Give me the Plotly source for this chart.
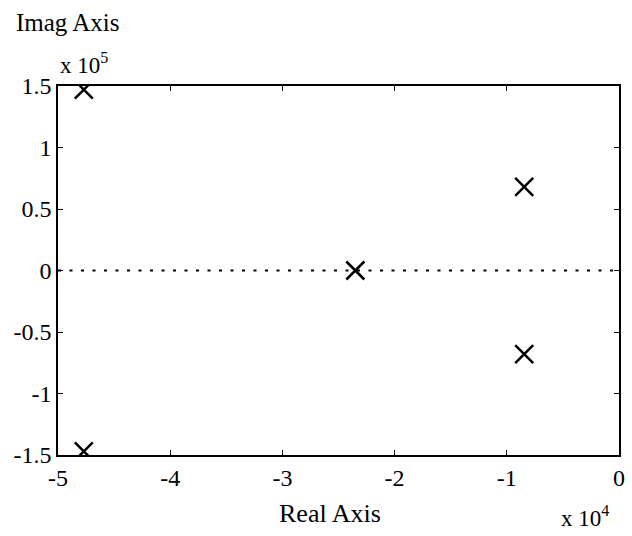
import plotly.graph_objects as go

# Pole locations (real part in units of 1e4, imaginary part in units of 1e5)
pole_real = [-4.77, -4.77, -0.845, -0.845, -2.35]
pole_imag = [1.47, -1.47, 0.68, -0.68, 0.0]

x_ticks = [-5, -4, -3, -2, -1, 0]
y_ticks = [-1.5, -1, -0.5, 0, 0.5, 1, 1.5]
y_tick_text = ["-1.5", "-1", "-0.5", "0", "0.5", "1", "1.5"]

FONT = "Liberation Serif"

fig = go.Figure()

# real axis reference line
fig.add_trace(go.Scatter(
    x=[x_ticks[0], x_ticks[-1]], y=[0, 0], mode="lines",
    line=dict(color="black", width=2, dash="3px,8.5px"),
    hoverinfo="skip", showlegend=False,
))

fig.add_trace(go.Scatter(
    x=pole_real, y=pole_imag, mode="markers",
    marker=dict(symbol="x-thin", size=18, line=dict(color="black", width=2.5)),
    showlegend=False,
))

axis_common = dict(
    showgrid=False, zeroline=False, showline=True, linecolor="black",
    linewidth=1.5, mirror="allticks", ticks="inside", ticklen=5,
    tickcolor="black", tickwidth=1,
    tickfont=dict(family=FONT, size=24, color="black"),
)

fig.update_xaxes(range=[-5, 0], tickvals=x_ticks,
                 ticktext=[str(v) for v in x_ticks], **axis_common)
fig.update_yaxes(range=[-1.5, 1.5], tickvals=y_ticks,
                 ticktext=y_tick_text, **axis_common)

fig.update_layout(
    width=632, height=536,
    margin=dict(l=58, r=7, t=86, b=81),
    plot_bgcolor="white", paper_bgcolor="white",
    font=dict(family=FONT, size=24, color="black"),
    annotations=[
        dict(text="Imag Axis", xref="paper", yref="paper", x=-0.079, y=1.173,
             xanchor="left", yanchor="middle", showarrow=False,
             font=dict(size=25)),
        dict(text="x 10<sup>5</sup>", xref="paper", yref="paper", x=0.0, y=1.016,
             xanchor="left", yanchor="bottom", showarrow=False,
             font=dict(size=23)),
        dict(text="Real Axis", xref="paper", yref="paper", x=0.485, y=-0.115,
             xanchor="center", yanchor="top", showarrow=False,
             font=dict(size=26)),
        dict(text="x 10<sup>4</sup>", xref="paper", yref="paper", x=0.985, y=-0.211,
             xanchor="right", yanchor="bottom", showarrow=False,
             font=dict(size=23)),
    ],
)

fig.write_html("out.html")
